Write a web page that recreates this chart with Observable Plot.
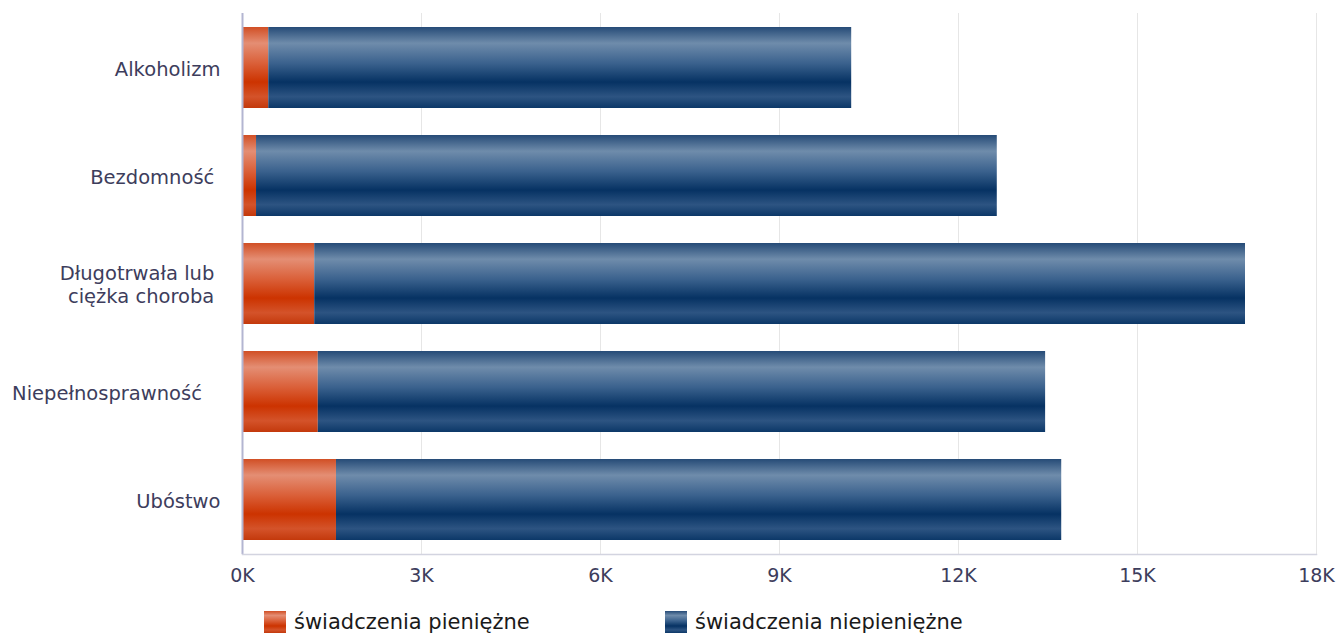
<!DOCTYPE html>
<html>
<head>
<meta charset="utf-8">
<script src="https://cdn.jsdelivr.net/npm/d3@7"></script>
<script src="https://cdn.jsdelivr.net/npm/@observablehq/plot@0.6"></script>
<style>
  html, body { margin: 0; padding: 0; background: #fff; }
  body { width: 1340px; height: 636px; overflow: hidden; font-family: "DejaVu Sans", Verdana, sans-serif; }
  #legend { position: relative; height: 36px; }
  .item { position: absolute; top: 10px; display: flex; align-items: center; font-size: 21px; color: #1a1a1a; }
  .sw { width: 22px; height: 22px; margin-right: 8px; }
</style>
</head>
<body>
<div id="chart"></div>
<div id="legend"></div>
<script>
const categories = ["Alkoholizm", "Bezdomność\u00a0", "Długotrwała lub\u00a0\nciężka choroba\u00a0", "Niepełnosprawność\u00a0\u00a0\u00a0", "Ubóstwo"];
const cashValues = [440, 235, 1210, 1270, 1575];
const nonCashValues = [9770, 12415, 15600, 12190, 12155];
const seriesNames = ["świadczenia pieniężne", "świadczenia niepieniężne"];
const xTicks = [0, 3000, 6000, 9000, 12000, 15000, 18000];

const rows = [];
categories.forEach((c, i) => {
  rows.push({cat: c, series: seriesNames[0], value: cashValues[i]});
  rows.push({cat: c, series: seriesNames[1], value: nonCashValues[i]});
});

const textColor = "#3d3d5c";

const chart = Plot.plot({
  width: 1340,
  height: 600,
  marginLeft: 242,
  marginRight: 24,
  marginTop: 13,
  marginBottom: 46,
  style: {fontFamily: "DejaVu Sans, Verdana, sans-serif", background: "#fff"},
  x: {domain: [0, 18000], ticks: xTicks, tickFormat: d => (d / 1000) + "K"},
  y: {domain: categories, paddingInner: 0.25, paddingOuter: 0.12},
  color: {domain: seriesNames, range: ["url(#gRed)", "url(#gBlue)"]},
  marks: [
    Plot.gridX(xTicks, {stroke: "#e6e6e6", strokeOpacity: 1, strokeWidth: 1}),
    Plot.barX(rows, Plot.stackX({y: "cat", x: "value", fill: "series", order: seriesNames})),
    Plot.ruleX([0], {stroke: "#b3b5d1", strokeWidth: 2}),
    Plot.frame({anchor: "bottom", stroke: "#d3d4e0", strokeWidth: 1.5}),
    Plot.axisX({ticks: xTicks, tickFormat: d => (d / 1000) + "K", tickSize: 0, tickPadding: 14, fontSize: 19, fill: textColor, label: null}),
    Plot.axisY({tickSize: 0, tickPadding: 22, fontSize: 19.5, fill: textColor, label: null, lineHeight: 1.2})
  ]
});

const ns = "http://www.w3.org/2000/svg";
const defs = document.createElementNS(ns, "defs");
function grad(id, stops) {
  const g = document.createElementNS(ns, "linearGradient");
  g.setAttribute("id", id);
  g.setAttribute("x1", "0"); g.setAttribute("y1", "0");
  g.setAttribute("x2", "0"); g.setAttribute("y2", "1");
  stops.forEach(([o, c]) => {
    const s = document.createElementNS(ns, "stop");
    s.setAttribute("offset", o);
    s.setAttribute("stop-color", c);
    g.appendChild(s);
  });
  defs.appendChild(g);
}
grad("gBlue", [[0, "#264b77"], [0.2, "#6f8cab"], [0.45, "#3a618d"], [0.68, "#063263"], [0.86, "#2d5482"], [1, "#0c3868"]]);
grad("gRed", [[0, "#d14f25"], [0.2, "#e48e74"], [0.45, "#da5f38"], [0.68, "#cc3300"], [0.86, "#d4532a"], [1, "#c3390c"]]);
chart.insertBefore(defs, chart.firstChild);
document.getElementById("chart").appendChild(chart);

const legend = document.getElementById("legend");
const legendX = [264, 665];
const legendGrad = [
  "linear-gradient(#d14f25, #e48e74 20%, #da5f38 45%, #cc3300 68%, #d4532a 86%, #c3390c)",
  "linear-gradient(#264b77, #6f8cab 20%, #3a618d 45%, #063263 68%, #2d5482 86%, #0c3868)"
];
seriesNames.forEach((s, i) => {
  const it = document.createElement("div");
  it.className = "item";
  it.style.left = legendX[i] + "px";
  const sw = document.createElement("div");
  sw.className = "sw";
  sw.style.background = legendGrad[i];
  const t = document.createElement("span");
  t.textContent = s;
  it.appendChild(sw); it.appendChild(t);
  legend.appendChild(it);
});
</script>
</body>
</html>
